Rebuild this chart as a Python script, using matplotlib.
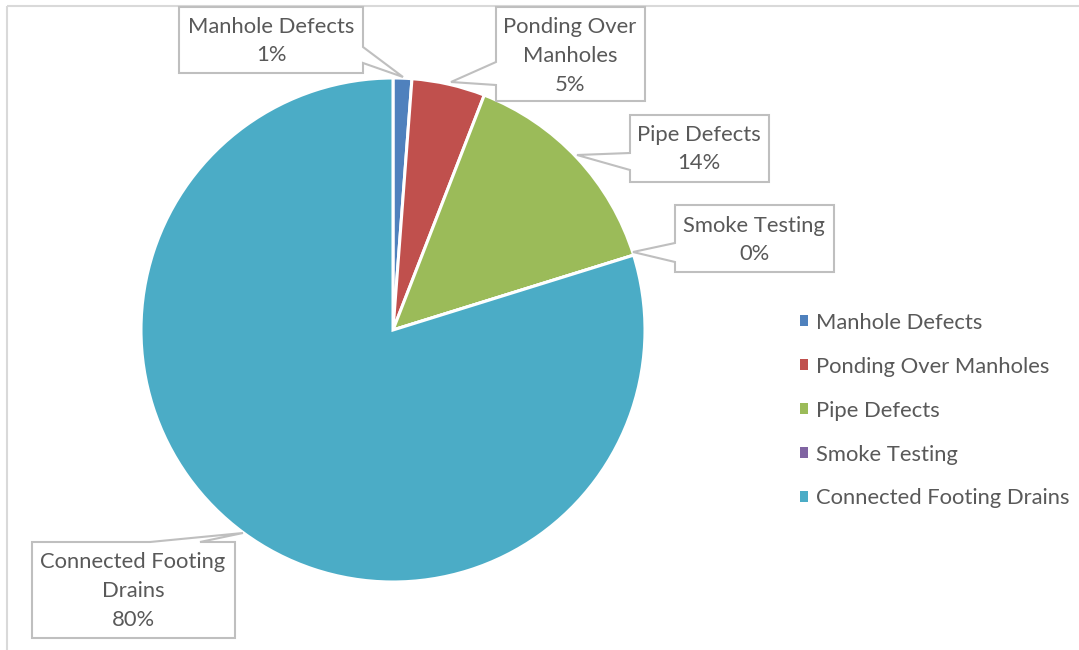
import matplotlib.pyplot as plt
from matplotlib.patches import Polygon, Rectangle
import numpy as np

plt.rcParams['font.family'] = ['Lato', 'DejaVu Sans']

categories = ['Manhole Defects', 'Ponding Over Manholes', 'Pipe Defects',
              'Smoke Testing', 'Connected Footing Drains']
box_names = ['Manhole Defects', 'Ponding Over\nManholes', 'Pipe Defects',
             'Smoke Testing', 'Connected Footing\nDrains']
values = [1.2, 4.7, 14.3, 0.0, 79.8]
colors = ['#4F81BD', '#C0504D', '#9BBB59', '#8064A2', '#4BACC6']

txt_col = '#595959'
line_col = '#BFBFBF'

# callout outlines in pixel coords (box with pointer), drawn as polygons
callouts = [
    [(179, 7), (363, 7), (363, 47), (403, 77), (363, 63), (363, 73), (179, 73)],
    [(496, 7), (645, 7), (645, 101), (496, 101), (496, 85), (451, 82), (496, 62)],
    [(630, 115), (769, 115), (769, 182), (630, 182), (630, 170), (577, 155), (630, 153)],
    [(675, 205), (834, 205), (834, 272), (675, 272), (675, 262), (633, 252), (675, 243)],
    [(32, 542), (150, 542), (243, 533), (200, 542), (235, 542), (235, 638), (32, 638)],
]
text_pos = [(271, 41), (570, 56), (699, 149), (754, 240), (133, 591)]

fig = plt.figure(figsize=(10.79, 6.5), dpi=100)
ax = fig.add_axes([0, 0, 1, 1])

wedges, _ = ax.pie(values, colors=colors, center=(393, 330), radius=252,
                   startangle=-90, counterclock=True,
                   wedgeprops=dict(edgecolor='white', linewidth=2.2))

ax.set_xlim(0, 1079)
ax.set_ylim(650, 0)
ax.set_aspect('equal')
ax.axis('off')

# chart border
ax.add_patch(Rectangle((7, 6), 1100, 700, fill=False, edgecolor='#D9D9D9', lw=1.5))

total = sum(values)
for pts, name, v, (tx, ty) in zip(callouts, box_names, values, text_pos):
    ax.add_patch(Polygon(pts, closed=True, facecolor='white', edgecolor=line_col, lw=1.5))
    ax.text(tx, ty, f'{name}\n{round(v / total * 100):.0f}%', ha='center', va='center',
            fontsize=15.8, color=txt_col, linespacing=1.55)

leg = ax.legend(wedges, categories, loc='upper left', bbox_to_anchor=(780 / 1079, 1 - 293 / 650),
                frameon=False, fontsize=15.8, labelcolor=txt_col,
                handlelength=0.38, handleheight=0.38, handletextpad=0.35, labelspacing=1.09)
for h in leg.legend_handles:
    h.set_edgecolor('none')

fig.savefig('out.png', dpi=100)
